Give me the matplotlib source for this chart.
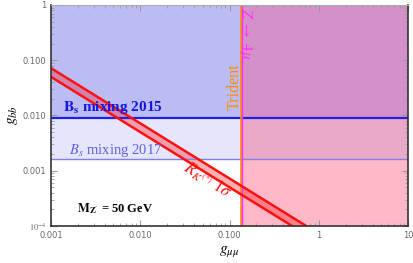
import numpy as np
import matplotlib
matplotlib.use("Agg")
import matplotlib.pyplot as plt
from matplotlib.ticker import FixedLocator, FixedFormatter, LogLocator, NullFormatter

# Limits
bs_2015 = 0.009        # g_bb upper bound, Bs mixing 2015
bs_2017 = 0.0016       # g_bb upper bound, Bs mixing 2017
g_mumu_bound = 0.135   # trident / Z -> 4 mu bound on g_mumu
rk_low = 5.0e-5        # g_bb * g_mumu, lower edge of R_K 1 sigma band
rk_high = 7.2e-5       # g_bb * g_mumu, upper edge

x_ticks = [0.001, 0.01, 0.1, 1, 10]
x_labels = ["0.001", "0.010", "0.100", "1", "10"]
y_ticks = [1e-4, 0.001, 0.01, 0.1, 1]
y_labels = [r"$10^{-4}$", "0.001", "0.010", "0.100", "1"]

plt.rcParams["mathtext.fontset"] = "stix"

fig = plt.figure(figsize=(4.14, 2.63), dpi=100)
ax = fig.add_axes([0.123, 0.141, 0.863, 0.840])
ax.set_xscale("log")
ax.set_yscale("log")
xmin, xmax = 1e-3, 10
ymin, ymax = 1e-4, 1
ax.set_xlim(xmin, xmax)
ax.set_ylim(ymin, ymax)

# excluded regions
ax.fill_between([xmin, g_mumu_bound], bs_2015, ymax, color="#bcbcf5", lw=0)
ax.fill_between([xmin, g_mumu_bound], bs_2017, bs_2015, color="#e5e5fb", lw=0)
ax.fill_between([g_mumu_bound, xmax], bs_2015, ymax, color="#d490c8", lw=0)
ax.fill_between([g_mumu_bound, xmax], bs_2017, bs_2015, color="#eba9c8", lw=0)
ax.fill_between([g_mumu_bound, xmax], ymin, bs_2017, color="#ffb8c8", lw=0)

ax.axhline(bs_2015, color="#2020e0", lw=1.6)
ax.axhline(bs_2017, color="#8080e8", lw=1.0)
ax.axvline(g_mumu_bound, color="#ff8c00", lw=1.2)
ax.axvline(g_mumu_bound * 1.03, color="#ff30ff", lw=1.0)

# R_K band
gx = np.logspace(-3, 1, 50)
ax.fill_between(gx, rk_low / gx, rk_high / gx, color="red", alpha=0.3, lw=0)
ax.plot(gx, rk_low / gx, color="#ff1010", lw=1.8)
ax.plot(gx, rk_high / gx, color="#ff1010", lw=1.8)

# labels
ax.text(0.00136, 0.0096, r"$\mathbf{B_s}$ mixing 2015", color="#1515e0",
        family="Liberation Serif", fontweight="bold", fontsize=11, va="bottom")
ax.text(0.00159, 0.00165, r"$B_s$ mixing 2017", color="#6060e0",
        family="Liberation Serif", fontsize=10.5, va="bottom")
ax.text(0.00195, 1.79e-4, r"$\mathbf{M_{Z'}}$ = 50 GeV", color="black",
        family="Liberation Serif", fontweight="bold", fontsize=9, va="baseline")
ax.text(0.056, 6.8e-4, r"$R_{K^{(*)}}\ 1\sigma$", color="#ff1010",
        fontsize=12, rotation=-32, ha="center", va="center")
ax.text(0.113, 0.033, "Trident", color="#ff8c00", family="Liberation Serif",
        fontsize=11.5, rotation=90, ha="center", va="center")
ax.text(0.152, 0.30, r"$Z\ \rightarrow\ 4\mu$", color="#ff30ff",
        fontsize=11, rotation=-90, ha="center", va="center")

ax.set_xlabel(r"$g_{\mu\mu}$", fontsize=11, labelpad=3)
ax.set_ylabel(r"$g_{bb}$", fontsize=11, labelpad=2)

ax.xaxis.set_major_locator(FixedLocator(x_ticks))
ax.xaxis.set_major_formatter(FixedFormatter(x_labels))
ax.yaxis.set_major_locator(FixedLocator(y_ticks))
ax.yaxis.set_major_formatter(FixedFormatter(y_labels))
ax.xaxis.set_minor_locator(LogLocator(subs=np.arange(2, 10)))
ax.yaxis.set_minor_locator(LogLocator(subs=np.arange(2, 10)))
ax.xaxis.set_minor_formatter(NullFormatter())
ax.yaxis.set_minor_formatter(NullFormatter())
ax.tick_params(which="both", direction="in", top=True, right=True,
               colors="#999999", labelcolor="#666666", labelsize=6)
ax.tick_params(which="major", length=4)
ax.tick_params(which="minor", length=2)
for s in ["left", "bottom", "right"]:
    ax.spines[s].set_color("#333333")
    ax.spines[s].set_linewidth(1.2)
ax.spines["top"].set_color("#aaaaaa")

fig.savefig("out.png", dpi=100)
